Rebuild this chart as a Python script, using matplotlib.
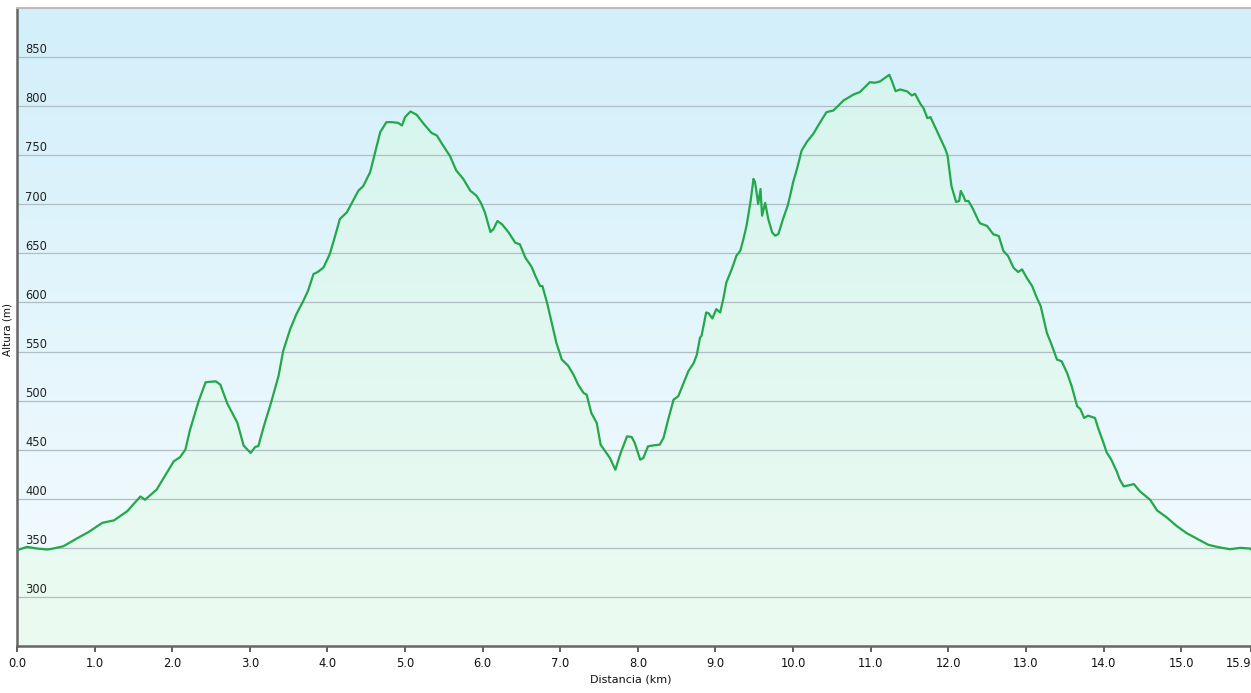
import numpy as np
import matplotlib
matplotlib.use("Agg")
import matplotlib.pyplot as plt
from matplotlib.transforms import blended_transform_factory

# ---------------------------------------------------------------------------
# Data (distance in km, altitude in m)
# ---------------------------------------------------------------------------
dist_km = [
    0.00, 0.13, 0.26, 0.39, 0.45, 0.60, 0.77, 0.92, 1.10, 1.25, 1.42, 1.59,
    1.65, 1.80, 1.93, 2.02, 2.10, 2.17, 2.23, 2.34, 2.43, 2.56, 2.62, 2.71,
    2.84, 2.92, 3.01, 3.07, 3.11, 3.175, 3.28, 3.37, 3.43, 3.52, 3.60, 3.69,
    3.75, 3.82, 3.88, 3.95, 4.03, 4.10, 4.16, 4.25, 4.33, 4.40, 4.46, 4.55,
    4.61, 4.68, 4.76, 4.83, 4.91, 4.96, 5.00, 5.07, 5.15, 5.24, 5.34, 5.41,
    5.49, 5.58, 5.66, 5.75, 5.84, 5.92, 5.98, 6.03, 6.10, 6.14, 6.19, 6.25,
    6.33, 6.42, 6.48, 6.55, 6.63, 6.68, 6.74, 6.77, 6.83, 6.89, 6.95, 7.02,
    7.10, 7.17, 7.23, 7.30, 7.34, 7.40, 7.47, 7.52, 7.58, 7.64, 7.71, 7.77,
    7.86, 7.92, 7.96, 8.03, 8.07, 8.13, 8.20, 8.28, 8.33, 8.39, 8.46, 8.52,
    8.59, 8.65, 8.72, 8.76, 8.80, 8.82, 8.88, 8.91, 8.96, 9.01, 9.06, 9.10,
    9.14, 9.21, 9.27, 9.32, 9.36, 9.40, 9.45, 9.49, 9.51, 9.55, 9.58, 9.60,
    9.64, 9.68, 9.73, 9.77, 9.81, 9.87, 9.93, 9.96, 10.00, 10.05, 10.11,
    10.18, 10.26, 10.35, 10.43, 10.52, 10.65, 10.78, 10.86, 10.99, 11.05,
    11.12, 11.18, 11.24, 11.27, 11.32, 11.38, 11.47, 11.53, 11.57, 11.64,
    11.68, 11.73, 11.77, 11.83, 11.90, 11.96, 11.99, 12.04, 12.10, 12.14,
    12.16, 12.19, 12.22, 12.26, 12.32, 12.39, 12.41, 12.50, 12.58, 12.65,
    12.71, 12.77, 12.84, 12.90, 12.95, 13.01, 13.08, 13.14, 13.19, 13.23,
    13.27, 13.33, 13.40, 13.46, 13.53, 13.59, 13.66, 13.70, 13.75, 13.80,
    13.89, 13.93, 14.00, 14.04, 14.10, 14.17, 14.21, 14.26, 14.32, 14.39,
    14.47, 14.60, 14.69, 14.81, 14.94, 15.07, 15.20, 15.35, 15.48, 15.63,
    15.76, 15.89, 15.90,
]
elev_m = [
    347.6, 351.0, 349.3, 348.3, 349.0, 351.7, 359.5, 366.0, 375.5, 378.0,
    387.3, 402.3, 399.0, 409.4, 426.4, 438.2, 442.3, 450.1, 470.5, 499.3,
    518.7, 519.7, 516.3, 497.0, 477.3, 454.2, 446.7, 452.8, 453.7, 472.4,
    499.7, 525.2, 550.7, 572.8, 588.1, 601.7, 611.9, 628.9, 631.3, 635.7,
    649.3, 668.0, 685.0, 691.8, 703.7, 714.0, 718.4, 732.7, 751.4, 773.5,
    783.7, 783.7, 783.0, 780.3, 788.8, 794.6, 791.2, 782.0, 772.8, 770.1,
    759.9, 749.0, 734.4, 725.9, 713.9, 708.8, 701.0, 691.5, 671.8, 674.8,
    683.0, 679.6, 671.8, 660.9, 659.2, 645.6, 636.4, 626.9, 616.7, 616.7,
    599.7, 579.3, 558.8, 541.8, 535.7, 526.5, 516.3, 507.8, 506.1, 487.4,
    477.2, 455.1, 448.3, 441.5, 429.6, 444.9, 463.6, 462.9, 456.8, 439.8,
    441.5, 453.4, 454.4, 455.1, 461.9, 480.6, 501.0, 504.4, 518.0, 529.9,
    538.4, 546.9, 564.0, 566.0, 589.8, 589.1, 583.7, 593.2, 589.8, 603.4,
    620.4, 634.0, 647.6, 652.7, 664.6, 678.2, 702.0, 725.9, 722.4, 700.3,
    715.6, 688.4, 701.4, 685.0, 671.4, 668.0, 669.7, 685.0, 698.6, 708.2,
    722.4, 736.1, 754.8, 763.9, 771.8, 783.7, 793.9, 795.6, 805.8, 811.9,
    814.3, 824.5, 823.8, 825.2, 828.6, 832.0, 826.2, 815.3, 817.0, 815.0,
    810.9, 812.6, 802.4, 798.0, 787.8, 788.8, 778.6, 766.7, 756.5, 749.7,
    718.7, 702.4, 703.4, 713.6, 709.2, 703.4, 703.4, 694.9, 683.0, 680.6,
    677.9, 669.4, 667.7, 652.4, 647.3, 635.4, 631.0, 633.7, 625.2, 616.7,
    604.8, 596.3, 582.7, 569.0, 557.1, 541.8, 540.1, 528.2, 514.6, 494.2,
    491.5, 482.3, 484.7, 482.3, 472.1, 456.8, 447.3, 439.8, 427.9, 419.4,
    412.6, 413.6, 415.0, 407.5, 399.0, 388.1, 381.3, 372.4, 365.0, 359.5,
    353.1, 350.7, 348.6, 350.0, 349.3, 348.5,
]

x_ticks = [0.0, 1.0, 2.0, 3.0, 4.0, 5.0, 6.0, 7.0, 8.0, 9.0, 10.0, 11.0,
           12.0, 13.0, 14.0, 15.0, 15.9]
y_ticks = [300, 350, 400, 450, 500, 550, 600, 650, 700, 750, 800, 850]

X_MAX = 15.9
Y_MIN, Y_MAX = 250, 900

LINE_COLOR = "#22a84a"


def vertical_gradient(top, bottom, n=256):
    """Return an (n, 1, 3) RGB array going from top colour to bottom colour."""
    top = np.array(top) / 255.0
    bottom = np.array(bottom) / 255.0
    t = np.linspace(0, 1, n)[:, None]
    return (top + (bottom - top) * t)[:, None, :]


fig = plt.figure(figsize=(12.51, 6.93), dpi=100, facecolor="white")
ax = fig.add_axes([17 / 1251, 47 / 693, 1234 / 1251, 638 / 693])
ax.set_xlim(0, X_MAX)
ax.set_ylim(Y_MIN, Y_MAX)

extent = [0, X_MAX, Y_MIN, Y_MAX]

# sky gradient behind everything
ax.imshow(vertical_gradient((210, 239, 250), (246, 252, 255)),
          extent=extent, aspect="auto", origin="upper", zorder=0)

# area under the profile, filled with its own gradient
area = ax.fill_between(dist_km, elev_m, Y_MIN, facecolor="none",
                       edgecolor="none", zorder=1)
under = ax.imshow(vertical_gradient((212, 244, 238), (236, 251, 242)),
                  extent=extent, aspect="auto", origin="upper", zorder=1)
under.set_clip_path(area.get_paths()[0], transform=ax.transData)

# horizontal grid lines
for y in y_ticks:
    ax.axhline(y, color="#b0bec3", lw=0.9, zorder=2)

ax.plot(dist_km, elev_m, color=LINE_COLOR, lw=1.6, zorder=3,
        solid_joinstyle="round")

# y labels sit inside the plot, just above their grid line
trans = blended_transform_factory(ax.transAxes, ax.transData)
for y in y_ticks:
    ax.text(0.0065, y + 0.8, str(y), transform=trans, ha="left", va="bottom",
            fontsize=8.3, color="#222222", zorder=4)
ax.set_yticks([])

ax.set_xticks(x_ticks)
labels = ax.set_xticklabels([f"{t:.1f}" for t in x_ticks], fontsize=8.3,
                            color="#111111")
labels[-1].set_horizontalalignment("right")
ax.tick_params(axis="x", direction="out", length=4, width=1.2,
               color="#444444", pad=4)

for side in ("left", "bottom"):
    ax.spines[side].set_color("#666666")
    ax.spines[side].set_linewidth(1.8)
ax.spines["top"].set_color("#bbbbbb")
ax.spines["top"].set_linewidth(1.5)
ax.spines["right"].set_visible(False)

fig.text(8 / 1251, 1 - 330 / 693, "Altura (m)", rotation=90, ha="center",
         va="center", fontsize=7.5, color="#111111")
fig.text(631 / 1251, 1 - 680 / 693, "Distancia (km)", ha="center",
         va="center", fontsize=8, color="#111111")

fig.savefig("out.png", dpi=100)
